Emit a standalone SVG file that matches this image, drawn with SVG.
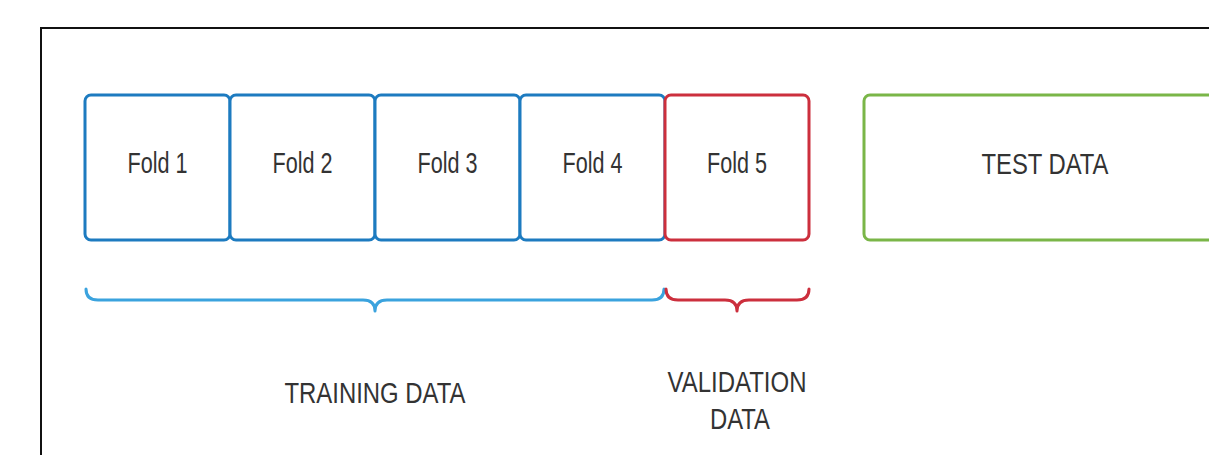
<svg xmlns="http://www.w3.org/2000/svg" width="1209" height="455" viewBox="0 0 1209 455">
<style>
.fold{fill:#fff;stroke-width:3}
.blue{stroke:#1d7bc0}
.red{stroke:#cc2f3d}
.green{stroke:#7ab648}
.lbl{font-family:"Liberation Sans",Arial,sans-serif;font-size:30px;fill:#333;text-anchor:middle}
.brace{fill:none;stroke-width:3;stroke-linecap:round;stroke-linejoin:round}
</style>
<rect x="0" y="0" width="1209" height="455" fill="#fff"/>
<rect id="frame" x="41" y="28" width="1200" height="460" fill="none" stroke="#111" stroke-width="2"/>
<g id="fold1"><rect class="fold blue" x="85" y="95" width="145" height="145" rx="6"/><text class="lbl" x="157.5" y="173" textLength="60" lengthAdjust="spacingAndGlyphs">Fold 1</text></g>
<g id="fold2"><rect class="fold blue" x="230" y="95" width="145" height="145" rx="6"/><text class="lbl" x="302.5" y="173" textLength="60" lengthAdjust="spacingAndGlyphs">Fold 2</text></g>
<g id="fold3"><rect class="fold blue" x="375" y="95" width="145" height="145" rx="6"/><text class="lbl" x="447.5" y="173" textLength="60" lengthAdjust="spacingAndGlyphs">Fold 3</text></g>
<g id="fold4"><rect class="fold blue" x="520" y="95" width="145" height="145" rx="6"/><text class="lbl" x="592.5" y="173" textLength="60" lengthAdjust="spacingAndGlyphs">Fold 4</text></g>
<g id="fold5"><rect class="fold red" x="665" y="95" width="144" height="145" rx="6"/><text class="lbl" x="737" y="173" textLength="60" lengthAdjust="spacingAndGlyphs">Fold 5</text></g>
<g id="test"><rect class="fold green" x="864" y="95" width="400" height="145" rx="6"/><text class="lbl" x="1045" y="174" textLength="127" lengthAdjust="spacingAndGlyphs">TEST DATA</text></g>
<g id="connectors">
<path class="brace" stroke="#3ba3de" d="M86,289 Q86,300 98,300 L363,300 Q375,300 375,311 Q375,300 387,300 L652,300 Q664,300 664,289"/>
<path class="brace" stroke="#cc2f3d" d="M666,289 Q666,300 678,300 L725,300 Q737,300 737,311 Q737,300 749,300 L797,300 Q809,300 809,289"/>
</g>
<g id="training"><text class="lbl" x="375" y="403" textLength="181" lengthAdjust="spacingAndGlyphs">TRAINING DATA</text></g>
<g id="validation"><text class="lbl" x="737" y="392" textLength="139" lengthAdjust="spacingAndGlyphs">VALIDATION</text><text class="lbl" x="740" y="429" textLength="60" lengthAdjust="spacingAndGlyphs">DATA</text></g>
</svg>
